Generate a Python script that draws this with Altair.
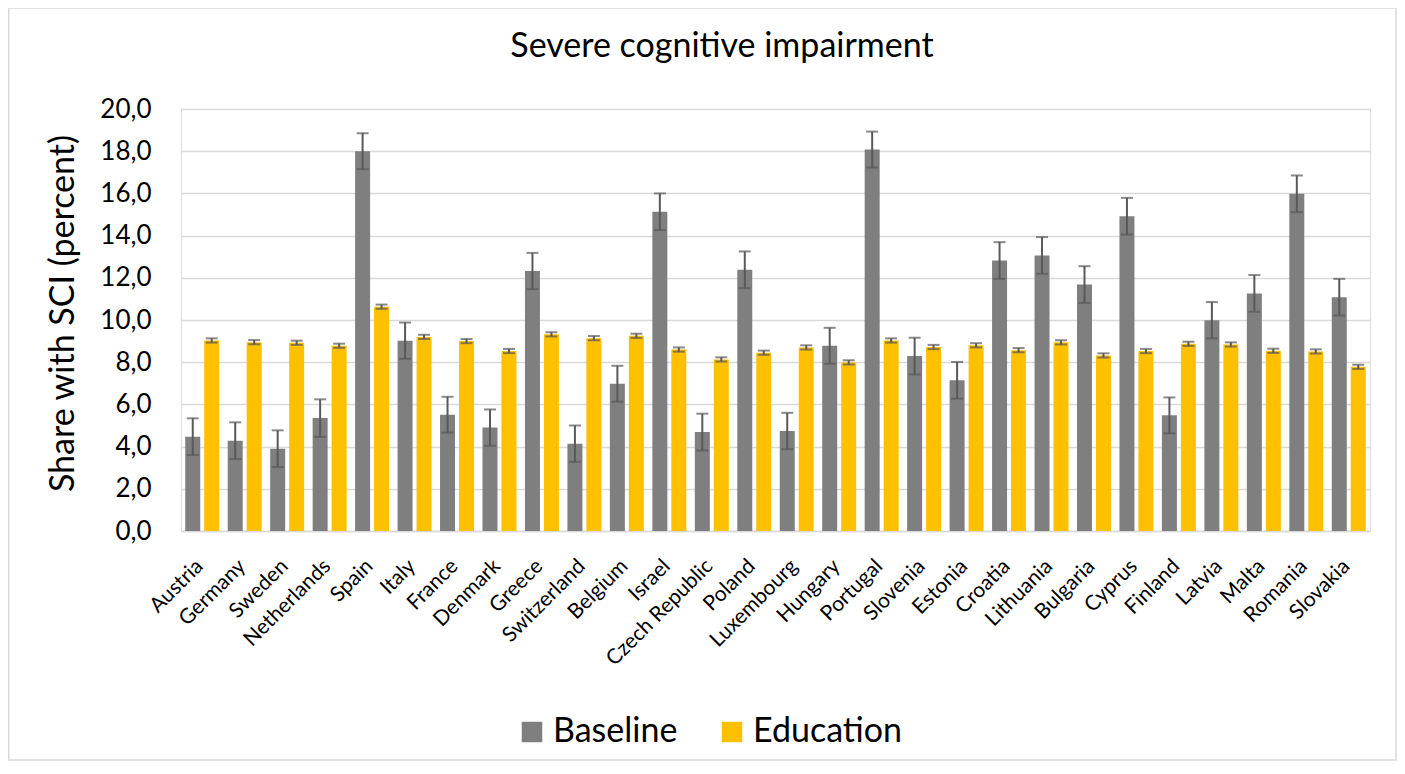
import altair as alt
import pandas as pd

countries = ["Austria", "Germany", "Sweden", "Netherlands", "Spain", "Italy", "France",
             "Denmark", "Greece", "Switzerland", "Belgium", "Israel", "Czech Republic",
             "Poland", "Luxembourg", "Hungary", "Portugal", "Slovenia", "Estonia",
             "Croatia", "Lithuania", "Bulgaria", "Cyprus", "Finland", "Latvia", "Malta",
             "Romania", "Slovakia"]
baseline = [4.47, 4.28, 3.90, 5.35, 18.00, 9.02, 5.51, 4.90, 12.32, 4.14, 6.98, 15.13,
            4.69, 12.38, 4.74, 8.78, 18.08, 8.29, 7.14, 12.82, 13.06, 11.68, 14.92,
            5.48, 9.99, 11.26, 15.98, 11.08]
baseline_err = [0.87, 0.87, 0.87, 0.89, 0.85, 0.86, 0.85, 0.86, 0.86, 0.86, 0.85, 0.87,
                0.87, 0.87, 0.86, 0.85, 0.85, 0.87, 0.87, 0.87, 0.87, 0.87, 0.87,
                0.85, 0.86, 0.87, 0.87, 0.87]
education = [9.03, 8.95, 8.92, 8.78, 10.63, 9.20, 9.00, 8.53, 9.32, 9.14, 9.25, 8.60,
             8.13, 8.45, 8.70, 7.99, 9.03, 8.72, 8.80, 8.57, 8.94, 8.32, 8.53,
             8.87, 8.84, 8.54, 8.51, 7.78]
education_err = [0.10] * 28
series = ["Baseline", "Education"]
colors = ["#7F7F7F", "#FFC000"]
y_ticks = [0, 2, 4, 6, 8, 10, 12, 14, 16, 18, 20]
chart_title = "Severe cognitive impairment"
y_title = "Share with SCI (percent)"

rows = []
for i, c in enumerate(countries):
    rows.append({"country": c, "series": series[0], "value": baseline[i],
                 "lo": baseline[i] - baseline_err[i], "hi": baseline[i] + baseline_err[i]})
    rows.append({"country": c, "series": series[1], "value": education[i],
                 "lo": education[i] - education_err[i], "hi": education[i] + education_err[i]})
df = pd.DataFrame(rows)

W, H = 1189, 422
PAD_L, PAD_T, PAD_R, PAD_B = 173, 101, 27, 230
FONT = "Lato"

x = alt.X("country:N", sort=countries, title=None,
          scale=alt.Scale(paddingInner=0.2, paddingOuter=0.1),
          axis=alt.Axis(labelAngle=-45, labelFontSize=21, labelFont=FONT, labelColor="#000000",
                        ticks=False, domainColor="#d9d9d9", domainWidth=1.5, labelPadding=24,
                        labelOffset=-10, grid=False))
xo = alt.XOffset("series:N", sort=series, scale=alt.Scale(paddingInner=0.21, paddingOuter=0))
y = alt.Y("value:Q", scale=alt.Scale(domain=[0, 20], nice=False),
          title=y_title,
          axis=alt.Axis(values=y_ticks, labelExpr="replace(format(datum.value, '.1f'), '.', ',')",
                        labelFontSize=26, labelFont=FONT, labelColor="#000000", labelPadding=30,
                        ticks=False, domain=False, gridColor="#d9d9d9", gridWidth=1.5,
                        titleFont=FONT, titleFontSize=34, titleFontWeight="normal",
                        titleColor="#000000", titleX=-118, titleY=204, titleAlign="center",
                        titleBaseline="middle", titleAngle=-90))

base = alt.Chart(df)

bars = base.mark_bar().encode(
    x=x, xOffset=xo, y=y,
    color=alt.Color("series:N", sort=series, scale=alt.Scale(domain=series, range=colors),
                    legend=alt.Legend(title=None, orient="none", legendX=334, legendY=606,
                                      direction="horizontal", symbolType="square",
                                      symbolSize=420, symbolStrokeWidth=0,
                                      labelFontSize=34, labelFont=FONT, labelColor="#000000",
                                      columnPadding=37, labelOffset=4, symbolOpacity=1)),
)

err = base.mark_rule(color="#595959", strokeWidth=2).encode(
    x=alt.X("country:N", sort=countries), xOffset=xo,
    y=alt.Y("lo:Q"), y2="hi:Q")
cap_lo = base.mark_tick(color="#595959", thickness=2, size=12, orient="horizontal").encode(
    x=alt.X("country:N", sort=countries), xOffset=xo, y=alt.Y("lo:Q"))
cap_hi = base.mark_tick(color="#595959", thickness=2, size=12, orient="horizontal").encode(
    x=alt.X("country:N", sort=countries), xOffset=xo, y=alt.Y("hi:Q"))

one = pd.DataFrame({"t": [chart_title]})
frame = alt.Chart(one).mark_rect(
    fill=None, stroke="#d9d9d9", strokeWidth=1.5).encode(
    x=alt.value(-PAD_L + 0.75), x2=alt.value(W + PAD_R - 1),
    y=alt.value(-PAD_T + 0), y2=alt.value(H + PAD_B - 1))
title = alt.Chart(one).mark_text(font=FONT, fontSize=34, color="#000000",
                                 align="center", baseline="middle").encode(
    text="t:N", x=alt.value(541), y=alt.value(-62))

chart = alt.layer(frame, title, bars, err, cap_lo, cap_hi).properties(
    width=W, height=H,
    autosize=alt.AutoSizeParams(type="none"),
    padding={"left": PAD_L, "top": PAD_T, "right": PAD_R, "bottom": PAD_B},
).configure_view(stroke=None).configure(background="white")

chart.save("out.html", embed_options={"renderer": "svg", "actions": False})
